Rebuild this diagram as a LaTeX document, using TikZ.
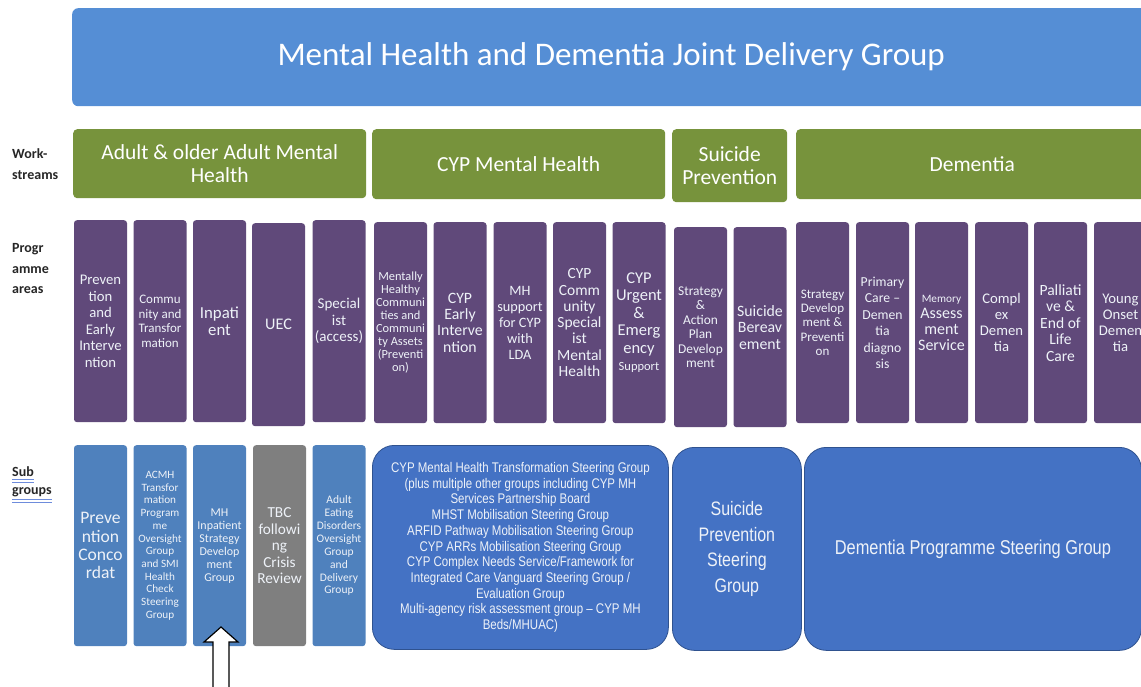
\documentclass[tikz,border=0pt]{standalone}
\usepackage{fontspec}
\setmainfont{Carlito}
\newfontfamily\narrowsans[FakeStretch=0.82]{Liberation Sans}
\usetikzlibrary{positioning}
\definecolor{titleblue}{RGB}{85,142,213}
\definecolor{streamgreen}{RGB}{119,147,60}
\definecolor{areapurple}{RGB}{96,73,122}
\definecolor{subblue}{RGB}{79,129,189}
\definecolor{subgrey}{RGB}{127,127,127}
\definecolor{groupblue}{RGB}{68,114,196}
\definecolor{groupedge}{RGB}{47,82,143}
\definecolor{paletext}{RGB}{238,242,248}
\definecolor{labelgrey}{RGB}{38,38,38}
\definecolor{spellblue}{RGB}{110,140,220}

\begin{document}
\begin{tikzpicture}[x=1pt,y=-1pt,
  stream/.style={fill=streamgreen,rounded corners=4pt,text=white,align=center,inner sep=0pt,
    anchor=north west,font=\fontsize{21.5}{22.5}\selectfont},
  area/.style={fill=areapurple,rounded corners=3pt,text=paletext,align=center,inner sep=0pt,
    minimum width=53pt,anchor=north},
  subcol/.style={rounded corners=3pt,text=paletext,align=center,inner sep=0pt,
    minimum width=53pt,anchor=north},
  subbox/.style={fill=groupblue,draw=groupedge,line width=0.8pt,rounded corners=22pt,
    text=paletext,align=center,inner sep=0pt,anchor=north west},
  rowlabel/.style={text=labelgrey,align=left,inner sep=0pt,anchor=west,
    font=\bfseries\fontsize{14}{20.5}\selectfont},
  spell/.style={spellblue,line width=1.1pt}]
\useasboundingbox (0,0) rectangle (1141,687);

% ---------- top group ----------
\node[fill=titleblue,rounded corners=6pt,anchor=north west,minimum width=1078pt,minimum height=98pt,
  text=white,inner sep=0pt,font=\fontsize{33}{38}\selectfont] (jdg) at (72,8)
  {Mental Health and Dementia Joint Delivery Group};

% ---------- row labels ----------
\node[rowlabel] (lblwork) at (12,164) {Work-\\streams};
\node[rowlabel] (lblprog) at (12,269) {Progr\\amme\\areas};
\node[rowlabel] (lblsub) at (12,472) {Sub};
\node[rowlabel] (lblgroups) at (12,492) {groups};
\draw[spell] ([yshift=-2.5pt]lblsub.base west) -- ([yshift=-2.5pt]lblsub.base east);
\draw[spell] ([yshift=-5.5pt]lblsub.base west) -- ([yshift=-5.5pt]lblsub.base east);
\draw[spell] ([yshift=-5pt]lblgroups.base west) -- ([yshift=-5pt]lblgroups.base east);
\draw[spell] ([yshift=-8pt]lblgroups.base west) -- ([yshift=-8pt]lblgroups.base east);

% ---------- workstreams ----------
\node[stream,minimum width=293pt,minimum height=69pt] (wsadult) at (73,129) {Adult \& older Adult Mental\\Health};
\node[stream,minimum width=293pt,minimum height=70pt] (wscyp) at (372,129) {CYP Mental Health};
\node[stream,minimum width=115pt,minimum height=73pt] (wssuic) at (672,129) {Suicide\\Prevention};
\node[stream,minimum width=352pt,minimum height=70pt] (wsdem) at (796,129) {Dementia};

% ---------- programme areas ----------
\foreach \nm/\xc/\yt/\hh/\fs/\ls/\txt in {
  pa1/100.5/220/202/14.7/16.5/{Preven\\tion\\and\\Early\\Interve\\ntion},
  pa2/160/220/202/13/14.5/{Commu\\nity and\\Transfor\\mation},
  pa3/219.5/220/202/16.8/17.5/{Inpati\\ent},
  pa4/278.5/223/203/16.2/17/{UEC},
  pa5/339/220/202/15/16.5/{Special\\ist\\(access)},
  pb1/400.5/222/201/12.4/12.9/{Mentally\\Healthy\\Communi\\ties and\\Communi\\ty Assets\\(Preventi\\on)},
  pb2/460/222/201/15.8/16.3/{CYP\\Early\\Interve\\ntion},
  pb3/520/222/201/14.3/16/{MH\\support\\for CYP\\with\\LDA},
  pb4/579.5/222/201/15.5/16.3/{CYP\\Comm\\unity\\Special\\ist\\Mental\\Health},
  pb5/639/222/201/16.5/17.5/{CYP\\Urgent\\\&\\Emerg\\ency\\{\fontsize{12.5}{13}\selectfont Support}},
  pc1/700.5/227/200/13.4/14.5/{Strategy\\\&\\Action\\Plan\\Develop\\ment},
  pc2/760/227/200/15.8/16.5/{Suicide\\Bereav\\ement},
  pd1/822.5/222/201/13/14.3/{Strategy\\Develop\\ment \&\\Preventi\\on},
  pd2/882.5/222/201/13.7/16.5/{Primary\\Care \textendash\\Demen\\tia\\diagno\\sis},
  pd3/941.5/222/201/16/16/{{\fontsize{11.3}{12}\selectfont Memory}\\Assess\\ment\\Service},
  pd4/1001.5/222/201/14.7/16/{Compl\\ex\\Demen\\tia},
  pd5/1060.5/222/201/15.6/16.5/{Palliati\\ve \&\\End of\\Life\\Care},
  pd6/1120.5/222/201/14.7/16/{Young\\Onset\\Demen\\tia}}{
  \node[area,minimum height=\hh pt,font=\fontsize{\fs}{\ls}\selectfont] (\nm) at (\xc,\yt) {\txt};
}

% ---------- sub groups: adult columns ----------
\foreach \nm/\xc/\cl/\fs/\ls/\txt in {
  sa1/100.5/subblue/17.6/18.3/{Preve\\ntion\\Conco\\rdat},
  sa2/160/subblue/11.2/12.7/{ACMH\\Transfor\\mation\\Program\\me\\Oversight\\Group\\and SMI\\Health\\Check\\Steering\\Group},
  sa3/219.5/subblue/12/13/{MH\\Inpatient\\Strategy\\Develop\\ment\\Group},
  sa4/279.5/subgrey/15.3/16.5/{TBC\\followi\\ng\\Crisis\\Review},
  sa5/339/subblue/11.5/12.9/{Adult\\Eating\\Disorders\\Oversight\\Group\\and\\Delivery\\Group}}{
  \node[subcol,fill=\cl,minimum height=201pt,font=\fontsize{\fs}{\ls}\selectfont] (\nm) at (\xc,445) {\txt};
}

% ---------- sub groups: steering groups ----------
\node[subbox,minimum width=296pt,minimum height=204pt,font=\narrowsans\fontsize{14}{15.7}\selectfont] (sgcyp) at (372,445)
  {CYP Mental Health Transformation Steering Group\\(plus multiple other groups including CYP MH\\Services Partnership Board\\
   MHST Mobilisation Steering Group\\ARFID Pathway Mobilisation Steering Group\\CYP ARRs Mobilisation Steering Group\\
   CYP Complex Needs Service/Framework for\\Integrated Care Vanguard Steering Group /\\Evaluation Group\\
   Multi-agency risk assessment group \textendash\ CYP MH\\Beds/MHUAC)};
\node[subbox,minimum width=129pt,minimum height=203pt,font=\narrowsans\fontsize{19.5}{25.7}\selectfont] (sgsuic) at (672,447)
  {Suicide\\Prevention\\Steering\\Group};
\node[subbox,minimum width=337pt,minimum height=203pt,font=\narrowsans\fontsize{20}{24}\selectfont] (sgdem) at (804,447)
  {Dementia Programme Steering Group};

% ---------- pointer to the inpatient group ----------
\coordinate (arrtip) at (221,627);
\draw[fill=white,line width=1.2pt,line join=miter] (arrtip) -- ++(17,15) -- ++(-9,0) -- ++(0,50)
  -- ++(-16,0) -- ++(0,-50) -- ++(-9,0) -- cycle;
\end{tikzpicture}
\end{document}
